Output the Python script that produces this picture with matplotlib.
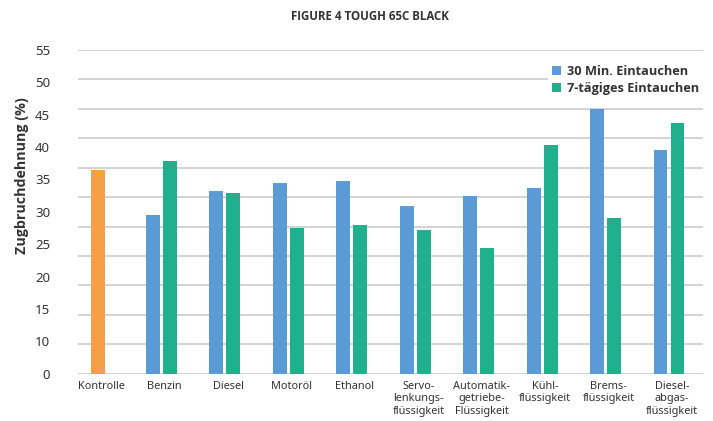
import matplotlib
matplotlib.use("Agg")
import matplotlib.pyplot as plt
import numpy as np

plt.rcParams['font.family'] = ['Noto Sans', 'DejaVu Sans']
bold_family = ['Open Sans', 'Noto Sans', 'DejaVu Sans']

categories = ["Kontrolle", "Benzin", "Diesel", "Motoröl", "Ethanol",
              "Servo-\nlenkungs-\nflüssigkeit", "Automatik-\ngetriebe-\nFlüssigkeit",
              "Kühl-\nflüssigkeit", "Brems-\nflüssigkeit", "Diesel-\nabgas-\nflüssigkeit"]
control_value = 34.6
immersion_30min = [27.0, 31.0, 32.4, 32.7, 28.5, 30.2, 31.6, 45.0, 38.0]
immersion_7days = [36.1, 30.7, 24.8, 25.3, 24.4, 21.4, 38.9, 26.5, 42.6]
series_names = ["30 Min. Eintauchen", "7-tägiges Eintauchen"]
ytick_labels = ["0", "10", "15", "20", "25", "30", "35", "40", "45", "50", "55"]
grid_levels = list(range(0, 56, 5))

c_orange = "#F79E48"
c_blue = "#5B9BD5"
c_green = "#20B08E"
text_col = "#333333"

W, H = 713, 421
fig = plt.figure(figsize=(W / 100, H / 100), dpi=100)
ax = fig.add_axes([78 / W, 1 - 373.7 / H, (703 - 78) / W, (373.7 - 50) / H])

x = np.arange(len(categories))
bw = 0.22
off = 0.134

ax.bar(x[0], control_value, bw, color=c_orange, zorder=3)
ax.bar(x[1:] - off, immersion_30min, bw, color=c_blue, zorder=3, label=series_names[0])
ax.bar(x[1:] + off, immersion_7days, bw, color=c_green, zorder=3, label=series_names[1])

for g in grid_levels:
    ax.axhline(g, color="#D0D0D0", lw=1.3, zorder=1)

ax.set_xlim(-0.315, 9.536)
ax.set_ylim(0, 55)
ax.set_yticks([5.5 * i for i in range(len(ytick_labels))])
ax.set_yticklabels(ytick_labels, fontsize=9.5, color=text_col)
ax.set_xticks(x + 0.05)
ax.set_xticklabels(categories, fontsize=7.9, color=text_col, linespacing=1.2, va="top")
ax.tick_params(axis="both", length=0)
ax.tick_params(axis="y", pad=20)
ax.tick_params(axis="x", pad=5)
for s in ax.spines.values():
    s.set_visible(False)

leg = ax.legend(loc="upper right", bbox_to_anchor=(1.0, 0.965), frameon=True,
                prop={"family": bold_family, "weight": "bold", "size": 9.2},
                handlelength=0.7, handleheight=0.7,
                handletextpad=0.5, labelspacing=0.3, borderpad=0.3, borderaxespad=0)
leg.get_frame().set_facecolor("white")
leg.get_frame().set_edgecolor("none")
leg.get_frame().set_alpha(1)
leg.set_zorder(5)
for t in leg.get_texts():
    t.set_color(text_col)

fig.text(22 / W, 1 - 176 / H, "Zugbruchdehnung (%)", rotation=90, ha="center", va="center",
         fontsize=10.3, fontweight="bold", family=bold_family, color=text_col)
fig.text(370 / W, 1 - 17 / H, "FIGURE 4 TOUGH 65C BLACK", ha="center", va="center",
         fontsize=8.3, fontweight="bold", family=bold_family, color=text_col)

fig.savefig("out.png", dpi=100, facecolor="white")
